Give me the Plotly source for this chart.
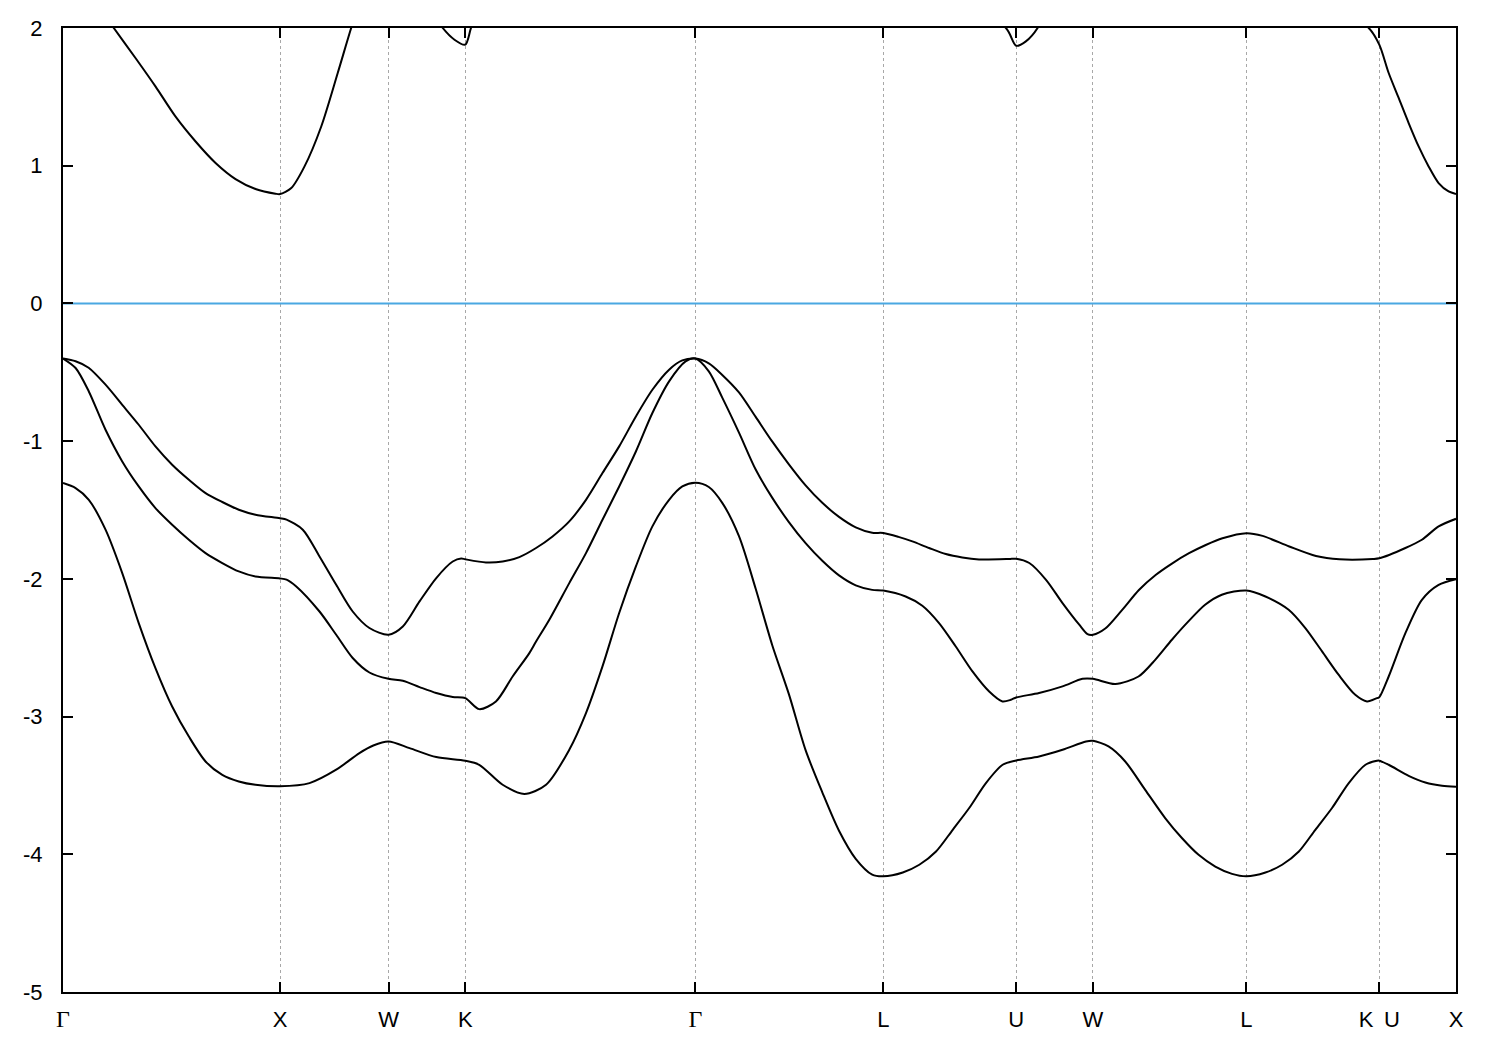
import plotly.graph_objects as go

# High-symmetry points along the k-path (units of 2*pi/a)
sym_k = [0.0, 1.0, 1.5, 1.8536, 2.9142, 3.7802, 4.3926, 4.7462, 5.4533, 6.0656, 6.4192]
GAM = '<span style="font-family:\'Liberation Serif\', \'DejaVu Serif\', serif; font-size:24px">Γ</span>'
sym_labels = [GAM, "X", "W", "K", GAM, "L", "U", "W", "L", "K\u2009 U", "X"]

energy_ticks = [-5, -4, -3, -2, -1, 0, 1, 2]

# Band 1 (top valence band)
band1_k = [0, 0.058, 0.118, 0.196, 0.273, 0.349, 0.426, 0.503, 0.580, 0.657, 0.734, 0.810, 0.887, 1.0,
           1.03, 1.105, 1.182, 1.259, 1.335, 1.412, 1.5,
           1.566, 1.643, 1.720, 1.796, 1.835, 1.8536,
           1.949, 2.026, 2.103, 2.180, 2.256, 2.333, 2.410, 2.486, 2.563, 2.640, 2.716, 2.793, 2.854, 2.9142,
           2.976, 3.038, 3.115, 3.192, 3.268, 3.345, 3.422, 3.499, 3.576, 3.653, 3.729, 3.7802,
           3.85, 3.914, 3.991, 4.068, 4.144, 4.221, 4.360, 4.3926,
           4.453, 4.530, 4.606, 4.683, 4.721, 4.7462,
           4.803, 4.880, 4.958, 5.035, 5.112, 5.189, 5.266, 5.343, 5.4533,
           5.528, 5.651, 5.774, 5.882, 6.036, 6.0656,
           6.186, 6.262, 6.339, 6.4192]
band1_e = [-0.40, -0.42, -0.467, -0.590, -0.736, -0.881, -1.038, -1.171, -1.280, -1.377, -1.442, -1.498, -1.534, -1.560,
           -1.57, -1.643, -1.837, -2.043, -2.237, -2.357, -2.406,
           -2.346, -2.164, -1.994, -1.874, -1.852, -1.858,
           -1.881, -1.874, -1.842, -1.776, -1.692, -1.583, -1.426, -1.232, -1.038, -0.821, -0.627, -0.481, -0.414, -0.40,
           -0.435, -0.519, -0.646, -0.824, -1.002, -1.168, -1.321, -1.448, -1.550, -1.626, -1.665, -1.667,
           -1.695, -1.728, -1.776, -1.820, -1.845, -1.859, -1.856, -1.854,
           -1.885, -2.007, -2.176, -2.333, -2.401, -2.406,
           -2.361, -2.227, -2.081, -1.972, -1.887, -1.814, -1.754, -1.705, -1.668,
           -1.688, -1.765, -1.834, -1.858, -1.856, -1.851,
           -1.776, -1.716, -1.619, -1.564]

# Band 2 (second valence band)
band2_k = [0, 0.058, 0.119, 0.196, 0.273, 0.349, 0.426, 0.503, 0.580, 0.657, 0.734, 0.810, 0.887, 1.0,
           1.03, 1.075, 1.182, 1.259, 1.335, 1.412, 1.5,
           1.566, 1.643, 1.720, 1.796, 1.8536,
           1.918, 1.995, 2.072, 2.149, 2.180, 2.241, 2.333, 2.410, 2.486, 2.563, 2.640, 2.716, 2.793, 2.869, 2.9142,
           2.976, 3.038, 3.115, 3.192, 3.268, 3.345, 3.422, 3.499, 3.576, 3.653, 3.729, 3.7802,
           3.883, 3.960, 4.037, 4.114, 4.191, 4.268, 4.329, 4.368, 4.3926,
           4.498, 4.606, 4.698, 4.7462,
           4.849, 4.956, 5.033, 5.110, 5.186, 5.263, 5.340, 5.4533,
           5.541, 5.648, 5.725, 5.802, 5.878, 5.955, 6.009, 6.055, 6.0656,
           6.109, 6.186, 6.262, 6.339, 6.4192]
band2_e = [-0.40, -0.469, -0.639, -0.917, -1.147, -1.329, -1.486, -1.607, -1.716, -1.813, -1.885, -1.946, -1.983, -1.997,
           -2.005, -2.055, -2.237, -2.406, -2.575, -2.680, -2.726,
           -2.740, -2.786, -2.829, -2.858, -2.866,
           -2.946, -2.890, -2.709, -2.539, -2.455, -2.297, -2.031, -1.813, -1.571, -1.329, -1.075, -0.796, -0.566, -0.421, -0.40,
           -0.493, -0.684, -0.938, -1.206, -1.410, -1.588, -1.741, -1.869, -1.975, -2.047, -2.080, -2.085,
           -2.128, -2.195, -2.321, -2.491, -2.672, -2.818, -2.890, -2.878, -2.861,
           -2.829, -2.781, -2.726, -2.726,
           -2.764, -2.709, -2.588, -2.442, -2.309, -2.188, -2.115, -2.084,
           -2.128, -2.224, -2.357, -2.527, -2.696, -2.842, -2.890, -2.866, -2.860,
           -2.709, -2.394, -2.152, -2.043, -2.002]

# Band 3 (lowest valence band shown)
band3_k = [0, 0.058, 0.119, 0.196, 0.273, 0.349, 0.426, 0.503, 0.580, 0.657, 0.734, 0.810, 0.887, 1.0,
           1.136, 1.259, 1.366, 1.43, 1.5,
           1.597, 1.720, 1.8536,
           1.918, 2.026, 2.126, 2.226, 2.333, 2.410, 2.486, 2.563, 2.640, 2.716, 2.793, 2.854, 2.9142,
           2.976, 3.038, 3.115, 3.192, 3.268, 3.345, 3.422, 3.499, 3.576, 3.653, 3.729, 3.7802,
           3.870, 3.946, 4.023, 4.100, 4.176, 4.253, 4.330, 4.3926,
           4.498, 4.606, 4.714, 4.7462,
           4.818, 4.895, 4.987, 5.079, 5.156, 5.233, 5.310, 5.387, 5.4533,
           5.541, 5.618, 5.695, 5.771, 5.848, 5.925, 6.002, 6.055, 6.0656,
           6.109, 6.201, 6.278, 6.355, 6.4192]
band3_e = [-1.304, -1.341, -1.426, -1.643, -1.958, -2.321, -2.648, -2.927, -3.145, -3.326, -3.423, -3.471, -3.495, -3.506,
           -3.483, -3.386, -3.265, -3.21, -3.181,
           -3.229, -3.294, -3.321,
           -3.350, -3.495, -3.562, -3.495, -3.241, -2.975, -2.636, -2.248, -1.910, -1.619, -1.426, -1.329, -1.302,
           -1.333, -1.448, -1.690, -2.072, -2.480, -2.837, -3.244, -3.550, -3.829, -4.033, -4.148, -4.160,
           -4.132, -4.076, -3.980, -3.822, -3.664, -3.483, -3.350, -3.319,
           -3.290, -3.241, -3.181, -3.176,
           -3.217, -3.326, -3.532, -3.737, -3.882, -4.004, -4.089, -4.142, -4.160,
           -4.132, -4.076, -3.980, -3.822, -3.664, -3.483, -3.350, -3.321, -3.320,
           -3.350, -3.430, -3.479, -3.503, -3.510]

# Lowest conduction band (values above 2 eV fall outside the plotted window)
cond_k = [0, 0.12, 0.234, 0.334, 0.426, 0.518, 0.611, 0.703, 0.795, 0.887, 0.979, 1.0,
          1.052, 1.113, 1.190, 1.266, 1.328, 1.42, 1.5,
          1.65, 1.750, 1.804, 1.8536,
          1.880, 2.0, 2.4, 2.9142,
          3.3, 3.7802,
          4.1, 4.345, 4.3926,
          4.437, 4.491, 4.6, 4.7462,
          5.1, 5.4533,
          5.8, 6.017, 6.0656,
          6.109, 6.155, 6.201, 6.247, 6.293, 6.339, 6.385, 6.4192]
cond_e = [2.50, 2.25, 2.0, 1.782, 1.576, 1.358, 1.176, 1.020, 0.903, 0.831, 0.797, 0.794,
          0.838, 0.995, 1.285, 1.673, 2.0, 2.45, 2.7,
          2.25, 2.0, 1.915, 1.879,
          2.0, 2.6, 2.9, 2.5,
          2.4, 2.3,
          2.2, 2.0, 1.871,
          1.903, 2.0, 2.4, 2.7,
          2.5, 2.3,
          2.2, 2.0, 1.879,
          1.673, 1.492, 1.310, 1.140, 0.995, 0.874, 0.813, 0.795]

fermi_k = [0.0, 6.4192]
fermi_e = [0.0, 0.0]

fig = go.Figure()

fig.add_trace(go.Scatter(x=fermi_k, y=fermi_e, mode="lines",
                         line=dict(color="#4aa8e2", width=2), hoverinfo="skip"))

for kk, ee in [(band1_k, band1_e), (band2_k, band2_e), (band3_k, band3_e), (cond_k, cond_e)]:
    fig.add_trace(go.Scatter(x=kk, y=ee, mode="lines",
                             line=dict(color="black", width=2, shape="spline", smoothing=0.8)))

# page body adds an 8px offset; margins compensate so the plot area matches the reference
fig.update_layout(
    width=1500, height=1050,
    margin=dict(l=55, r=52, t=20, b=66),
    paper_bgcolor="white", plot_bgcolor="white",
    showlegend=False,
    font=dict(family="Liberation Sans, Arial, sans-serif", size=22, color="black"),
)

fig.update_xaxes(
    range=[sym_k[0], sym_k[-1]], automargin=False,
    tickmode="array", tickvals=sym_k, ticktext=sym_labels,
    ticks="inside", ticklen=10, tickwidth=1.5, tickcolor="black",
    showline=True, linecolor="black", linewidth=2, mirror="ticks",
    showgrid=True, gridcolor="#a8a8a8", gridwidth=1, griddash="3px,3px",
    zeroline=False, ticklabelstandoff=7,
)
fig.update_yaxes(
    range=[-5, 2], automargin=False,
    tickmode="array", tickvals=energy_ticks, ticktext=[str(v) for v in energy_ticks],
    ticks="inside", ticklen=10, tickwidth=1.5, tickcolor="black",
    showline=True, linecolor="black", linewidth=2, mirror="ticks",
    showgrid=False, zeroline=False, ticklabelstandoff=14,
)

fig.write_html("out.html")
